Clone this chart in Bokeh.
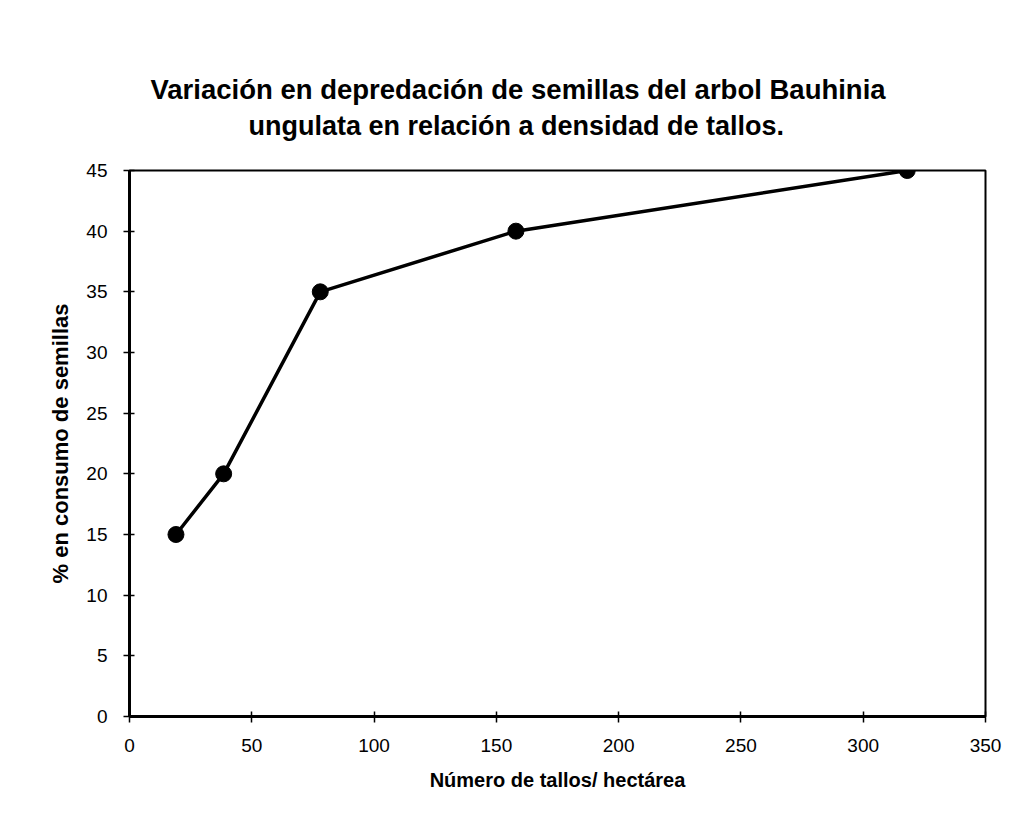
from bokeh.plotting import figure
from bokeh.models import Range1d, FixedTicker, Title
from bokeh.embed import file_html
from bokeh.resources import INLINE

# Data
tallos = [19, 38.5, 78, 158, 318]          # Número de tallos / hectárea
consumo = [15, 20, 35, 40, 45]             # % en consumo de semillas
x_ticks = [0, 50, 100, 150, 200, 250, 300, 350]
y_ticks = [0, 5, 10, 15, 20, 25, 30, 35, 40, 45]
title_line1 = "Variación en depredación de semillas del arbol Bauhinia"
title_line2 = "ungulata en relación a densidad de tallos."
x_label = "Número de tallos/ hectárea"
y_label = "% en consumo de semillas"

FONT = "Liberation Sans"

p = figure(width=1007, height=817, output_backend="svg", toolbar_location=None,
           x_range=Range1d(0, 350), y_range=Range1d(0, 45),
           min_border_left=129, min_border_right=22,
           min_border_top=170, min_border_bottom=101,
           background_fill_color="white", border_fill_color="white")

p.title = None
t2 = Title(text=title_line2, align="left", offset=119, text_font=FONT,
           text_font_size="27px", text_font_style="bold", text_color="black", standoff=59)
t1 = Title(text=title_line1, align="left", offset=21, text_font=FONT,
           text_font_size="27.5px", text_font_style="bold", text_color="black", standoff=-50)
p.add_layout(t2, "above")
p.add_layout(t1, "above")

p.xgrid.visible = False
p.ygrid.visible = False
p.outline_line_color = "black"
p.outline_line_width = 2

for ax in (p.xaxis[0], p.yaxis[0]):
    ax.axis_line_color = "black"
    ax.axis_line_width = 3
    ax.major_tick_line_color = "black"
    ax.major_tick_line_width = 1.5
    ax.major_tick_in = 5
    ax.major_tick_out = 6
    ax.minor_tick_line_color = None
    ax.major_label_text_font = FONT
    ax.major_label_text_font_size = "19px"
    ax.major_label_text_color = "black"
    ax.axis_label_text_font = FONT
    ax.axis_label_text_font_style = "bold"
    ax.axis_label_text_color = "black"

p.xaxis[0].ticker = FixedTicker(ticks=x_ticks)
p.yaxis[0].ticker = FixedTicker(ticks=y_ticks)
p.xaxis[0].major_label_standoff = 16
p.yaxis[0].major_label_standoff = 16
p.xaxis[0].axis_label = x_label
p.yaxis[0].axis_label = y_label
p.xaxis[0].axis_label_text_font_size = "20px"
p.yaxis[0].axis_label_text_font_size = "22px"
p.xaxis[0].axis_label_standoff = 14
p.yaxis[0].axis_label_standoff = 10

p.line(tallos, consumo, line_color="black", line_width=3.5)
p.scatter(tallos, consumo, size=16, fill_color="black", line_color="black")

open("out.html", "w").write(file_html(p, INLINE))
